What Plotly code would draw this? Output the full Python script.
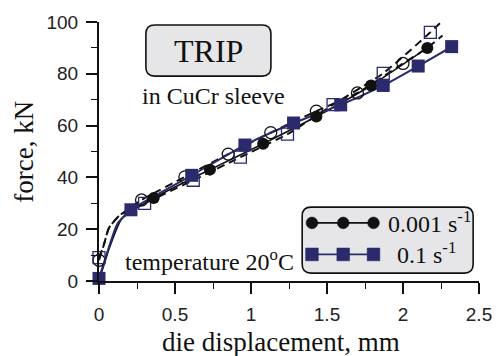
import plotly.graph_objects as go

# ---------------- data ----------------
# 0.001 s^-1 : filled circles, solid black line
fc_x = [0.36, 0.73, 1.08, 1.43, 1.79, 2.16]
fc_y = [32.0, 43.0, 53.0, 63.5, 75.5, 90.0]
fc_line_x = [0.0, 0.07, 0.15, 0.36, 0.73, 1.08, 1.43, 1.79, 2.16]
fc_line_y = [0.0, 13.0, 24.0, 32.0, 43.0, 53.0, 63.5, 75.5, 90.0]

# 0.1 s^-1 : filled squares, solid navy line
fs_x = [0.0, 0.21, 0.61, 0.96, 1.28, 1.59, 1.87, 2.10, 2.32]
fs_y = [1.0, 27.5, 40.8, 52.5, 61.0, 68.0, 75.5, 83.0, 90.5]
fs_line_x = [0.0, 0.065, 0.12, 0.21, 0.61, 0.96, 1.28, 1.59, 1.87, 2.10, 2.32, 2.36]
fs_line_y = [1.0, 13.0, 22.0, 27.5, 40.8, 52.5, 61.0, 68.0, 75.5, 83.0, 90.5, 92.5]

# open circles, dashed line
oc_x = [0.0, 0.28, 0.565, 0.85, 1.13, 1.43, 1.70, 2.0]
oc_y = [8.0, 31.3, 40.2, 49.0, 57.3, 65.6, 72.6, 84.0]
oc_line_x = [0.0, 0.033, 0.065, 0.13, 0.28, 0.565, 0.85, 1.13, 1.43, 1.70, 2.0, 2.16, 2.26]
oc_line_y = [8.0, 14.2, 20.5, 25.0, 31.3, 40.2, 49.0, 57.3, 65.6, 72.6, 84.0, 90.0, 94.8]

# open squares, dashed line
os_x = [0.0, 0.30, 0.62, 0.93, 1.24, 1.54, 1.87, 2.18]
os_y = [9.0, 30.0, 38.9, 47.8, 56.7, 68.1, 80.2, 96.0]
os_line_x = [0.0, 0.033, 0.065, 0.13, 0.30, 0.62, 0.93, 1.24, 1.54, 1.87, 2.18, 2.26]
os_line_y = [9.0, 14.2, 20.5, 25.0, 30.0, 38.9, 47.8, 56.7, 68.1, 80.2, 96.0, 100.5]

x_ticks = [0, 0.5, 1, 1.5, 2, 2.5]
x_tick_text = ["0", "0.5", "1", "1.5", "2", "2.5"]
y_ticks = [0, 20, 40, 60, 80, 100]
y_tick_text = ["0", "20", "40", "60", "80", "100"]

legend_labels = ["0.001 s<sup>-1</sup>", "0.1 s<sup>-1</sup>"]

# ---------------- style ----------------
W, H = 504, 356
ML, MR, MT, MB = 99, 16, 18, 75
NAVY = "#2b2a6c"
BLACK = "#111111"
BOXFILL = "#e6e6e8"
SERIF = "Liberation Serif, Times New Roman, serif"
SANS = "Liberation Sans, Arial, sans-serif"

PW = W - ML - MR
PH = H - MT - MB


def px(xp):
    return (xp - ML) / PW


def py(yp):
    return (H - MB - yp) / PH


def rrect_path(x0, y0, x1, y1, r):
    pts = [
        ("M", [(x0 + r, y0)]),
        ("L", [(x1 - r, y0)]),
        ("Q", [(x1, y0), (x1, y0 + r)]),
        ("L", [(x1, y1 - r)]),
        ("Q", [(x1, y1), (x1 - r, y1)]),
        ("L", [(x0 + r, y1)]),
        ("Q", [(x0, y1), (x0, y1 - r)]),
        ("L", [(x0, y0 + r)]),
        ("Q", [(x0, y0), (x0 + r, y0)]),
    ]
    s = ""
    for cmd, ps in pts:
        s += cmd + " " + " ".join(f"{px(a):.5f},{py(b):.5f}" for a, b in ps) + " "
    return s + "Z"


fig = go.Figure()

# lines
fig.add_trace(go.Scatter(x=os_line_x, y=os_line_y, mode="lines",
                         line=dict(color=BLACK, width=2, dash="8px,5px", shape="spline", smoothing=0.5),
                         showlegend=False, hoverinfo="skip"))
fig.add_trace(go.Scatter(x=oc_line_x, y=oc_line_y, mode="lines",
                         line=dict(color=BLACK, width=2, dash="8px,5px", shape="spline", smoothing=0.5),
                         showlegend=False, hoverinfo="skip"))
fig.add_trace(go.Scatter(x=fc_line_x, y=fc_line_y, mode="lines",
                         line=dict(color=BLACK, width=1.6, shape="spline", smoothing=0.5),
                         showlegend=False, hoverinfo="skip"))
fig.add_trace(go.Scatter(x=fs_line_x, y=fs_line_y, mode="lines",
                         line=dict(color=NAVY, width=2, shape="spline", smoothing=0.5),
                         showlegend=False, hoverinfo="skip"))

# markers
fig.add_trace(go.Scatter(x=oc_x, y=oc_y, mode="markers", cliponaxis=False,
                         marker=dict(symbol="circle-open", size=12, color=BLACK, line=dict(width=1.3)),
                         showlegend=False))
fig.add_trace(go.Scatter(x=os_x, y=os_y, mode="markers", cliponaxis=False,
                         marker=dict(symbol="square-open", size=12, color=NAVY, line=dict(width=1.3)),
                         showlegend=False))
fig.add_trace(go.Scatter(x=fc_x, y=fc_y, mode="markers", cliponaxis=False,
                         marker=dict(symbol="circle", size=12, color=BLACK),
                         name=legend_labels[0], showlegend=False))
fig.add_trace(go.Scatter(x=fs_x, y=fs_y, mode="markers", cliponaxis=False,
                         marker=dict(symbol="square", size=13, color=NAVY),
                         name=legend_labels[1], showlegend=False))

shapes = []
annotations = []

# TRIP box
shapes.append(dict(type="path", xref="paper", yref="paper",
                   path=rrect_path(147, 21, 275, 73, 9),
                   fillcolor=BOXFILL, line=dict(color=BLACK, width=1.6), layer="above"))
annotations.append(dict(text="TRIP", x=px(211), y=py(47), xref="paper", yref="paper",
                        showarrow=False, xanchor="center", yanchor="middle",
                        font=dict(family=SERIF, size=32, color=BLACK)))
annotations.append(dict(text="in CuCr sleeve", x=px(216), y=py(93), xref="paper", yref="paper",
                        showarrow=False, xanchor="center", yanchor="middle",
                        font=dict(family=SERIF, size=24, color=BLACK)))
annotations.append(dict(text="temperature 20<sup>o</sup>C", x=px(124), y=py(260), xref="paper", yref="paper",
                        showarrow=False, xanchor="left", yanchor="middle",
                        font=dict(family=SERIF, size=24, color=BLACK)))

# legend box
shapes.append(dict(type="path", xref="paper", yref="paper",
                   path=rrect_path(307, 206, 482, 273, 9),
                   fillcolor=BOXFILL, line=dict(color=BLACK, width=1.6), layer="above"))
# legend row 1
shapes.append(dict(type="line", xref="paper", yref="paper", x0=px(313), x1=px(384), y0=py(222), y1=py(222),
                   line=dict(color=BLACK, width=1.6), layer="above"))
for cx in (317, 349, 380):
    shapes.append(dict(type="circle", xref="paper", yref="paper",
                       x0=px(cx - 6), x1=px(cx + 6), y0=py(222 - 6), y1=py(222 + 6),
                       fillcolor=BLACK, line=dict(color=BLACK, width=0.5), layer="above"))
# legend row 2
shapes.append(dict(type="line", xref="paper", yref="paper", x0=px(313), x1=px(384), y0=py(254), y1=py(254),
                   line=dict(color=NAVY, width=1.6), layer="above"))
for cx in (317, 349, 380):
    shapes.append(dict(type="rect", xref="paper", yref="paper",
                       x0=px(cx - 6.5), x1=px(cx + 6.5), y0=py(254 - 6.5), y1=py(254 + 6.5),
                       fillcolor=NAVY, line=dict(color=NAVY, width=0.5), layer="above"))
annotations.append(dict(text=legend_labels[0], x=px(393), y=py(221), xref="paper", yref="paper",
                        showarrow=False, xanchor="left", yanchor="middle",
                        font=dict(family=SERIF, size=24, color=BLACK)))
annotations.append(dict(text=legend_labels[1], x=px(402), y=py(253), xref="paper", yref="paper",
                        showarrow=False, xanchor="left", yanchor="middle",
                        font=dict(family=SERIF, size=24, color=BLACK)))

# axis titles
annotations.append(dict(text="die displacement, mm", x=px(285), y=py(343), xref="paper", yref="paper",
                        showarrow=False, xanchor="center", yanchor="middle",
                        font=dict(family=SERIF, size=27, color=BLACK)))
annotations.append(dict(text="force, kN", x=px(22), y=py(150), xref="paper", yref="paper",
                        showarrow=False, xanchor="center", yanchor="middle", textangle=-90,
                        font=dict(family=SERIF, size=27, color=BLACK)))

fig.update_layout(
    width=W, height=H,
    margin=dict(l=ML, r=MR, t=MT, b=MB),
    paper_bgcolor="white", plot_bgcolor="white",
    shapes=shapes, annotations=annotations,
    showlegend=False,
    xaxis=dict(range=[0, 2.5], showgrid=False, zeroline=False,
               showline=True, linecolor=BLACK, linewidth=2,
               ticks="outside", ticklen=11, tickwidth=1.6, tickcolor=BLACK,
               tickvals=x_ticks, ticktext=x_tick_text,
               minor=dict(ticks="outside", ticklen=6, tickwidth=1.4, tickcolor=BLACK, dtick=0.25, showgrid=False),
               tickfont=dict(family=SANS, size=19, color="#222222"), ticklabelstandoff=4),
    yaxis=dict(range=[0, 100], showgrid=False, zeroline=False,
               showline=True, linecolor=BLACK, linewidth=2,
               ticks="outside", ticklen=11, tickwidth=1.6, tickcolor=BLACK,
               tickvals=y_ticks, ticktext=y_tick_text,
               minor=dict(ticks="outside", ticklen=6, tickwidth=1.4, tickcolor=BLACK, dtick=10, showgrid=False),
               tickfont=dict(family=SANS, size=19, color="#222222"), ticklabelstandoff=4),
)

fig.write_html("out.html")
